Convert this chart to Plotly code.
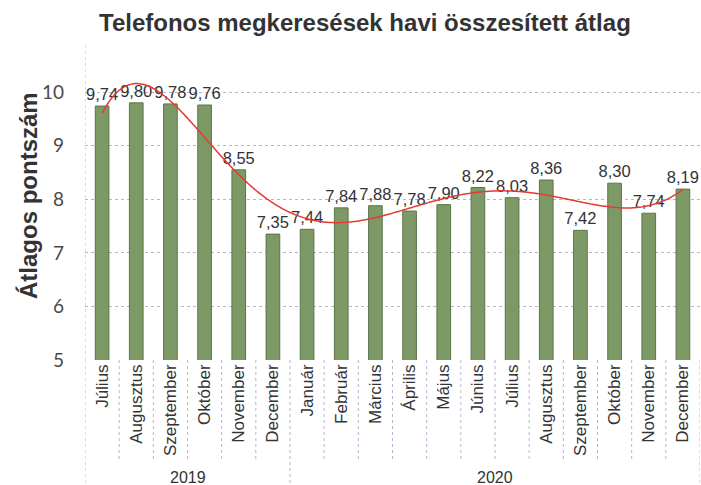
import numpy as np
import plotly.graph_objects as go

months = ["Július", "Augusztus", "Szeptember", "Október", "November", "December",
          "Január", "Február", "Március", "Április", "Május", "Június",
          "Július", "Augusztus", "Szeptember", "Október", "November", "December"]
values = [9.74, 9.80, 9.78, 9.76, 8.55, 7.35,
          7.44, 7.84, 7.88, 7.78, 7.90, 8.22,
          8.03, 8.36, 7.42, 8.30, 7.74, 8.19]
years = ["2019", "2020"]
year_spans = [(0, 5), (6, 17)]

x = list(range(len(values)))
labels = [f"{v:.2f}".replace(".", ",") for v in values]

# polynomial trendline (degree 6) fitted to the data, as in the source chart
xf = np.arange(1, len(values) + 1)
coef = np.polyfit(xf, values, 6)
xs = np.linspace(1, len(values), 300)
ys = np.polyval(coef, xs)

grid_col = "#b9b3cc"
txt_font = "Liberation Sans, Arial"

L, R, T, B = 85, 1, 45, 125
W, H = 701, 485
pw, ph = W - L - R, H - T - B

def px_y(py):
    return (H - B - py) / ph

fig = go.Figure()
fig.add_trace(go.Bar(
    x=x, y=values, width=0.4,
    marker=dict(color="#7d9a66", line=dict(color="#5b7449", width=1)),
    text=labels, textposition="outside", constraintext="none", cliponaxis=False,
    textfont=dict(family=txt_font, size=16.5, color="#333333"),
    showlegend=False,
))
fig.add_trace(go.Scatter(
    x=xs - 1, y=ys, mode="lines",
    line=dict(color="#e63a30", width=1.5, shape="spline"),
    showlegend=False, hoverinfo="skip",
))

shapes = []
for k in range(-1, len(values)):
    xv = k + 0.5
    full = xv in (-0.5, 5.5, len(values) - 0.5)
    shapes.append(dict(type="line", xref="x", yref="paper", x0=xv, x1=xv,
                       y0=0, y1=px_y(485) if full else px_y(461),
                       line=dict(color=grid_col, width=1, dash="dot")))
shapes.append(dict(type="line", xref="x", yref="paper", x0=-0.5, x1=-0.5,
                   y0=0, y1=1, line=dict(color=grid_col, width=1, dash="dot")))

annotations = []
for yr, (a, b) in zip(years, year_spans):
    annotations.append(dict(x=(a + b) / 2, y=px_y(477), xref="x", yref="paper",
                            text=yr, showarrow=False, yanchor="middle",
                            font=dict(family=txt_font, size=16, color="#333333")))
annotations.append(dict(x=(28 - L) / pw, y=px_y(196), xref="paper", yref="paper",
                        text="<b>Átlagos pontszám</b>",
                        showarrow=False, textangle=-90, xanchor="center", yanchor="middle",
                        font=dict(family=txt_font, size=24, color="#333333")))
annotations.append(dict(x=(365 - L) / pw, y=px_y(22), xref="paper", yref="paper",
                        text="<b>Telefonos megkeresések havi összesített átlag</b>",
                        showarrow=False, xanchor="center", yanchor="middle",
                        font=dict(family=txt_font, size=24, color="#333333")))

fig.update_layout(
    width=W, height=H,
    margin=dict(l=L, r=R, t=T, b=B),
    paper_bgcolor="white", plot_bgcolor="white",
    xaxis=dict(range=[-0.5, len(values) - 0.5], tickmode="array", tickvals=x,
               ticktext=months, tickangle=-90, showgrid=False, zeroline=False,
               showline=False, ticks="", automargin=False,
               tickfont=dict(family=txt_font, size=17, color="#333333")),
    yaxis=dict(range=[5, 10.88], tickvals=[5, 6, 7, 8, 9, 10], showgrid=True,
               gridcolor=grid_col, griddash="dot", gridwidth=1, zeroline=False,
               showline=False, ticks="", ticklabelstandoff=20, automargin=False,
               tickfont=dict(family="Lato, Open Sans", size=19, color="#4a4a4a")),
    shapes=shapes, annotations=annotations, bargap=0.6,
)

fig.write_html("out.html", config={"displayModeBar": False},
               post_script="document.body.style.margin='0';document.body.style.overflow='hidden';")
